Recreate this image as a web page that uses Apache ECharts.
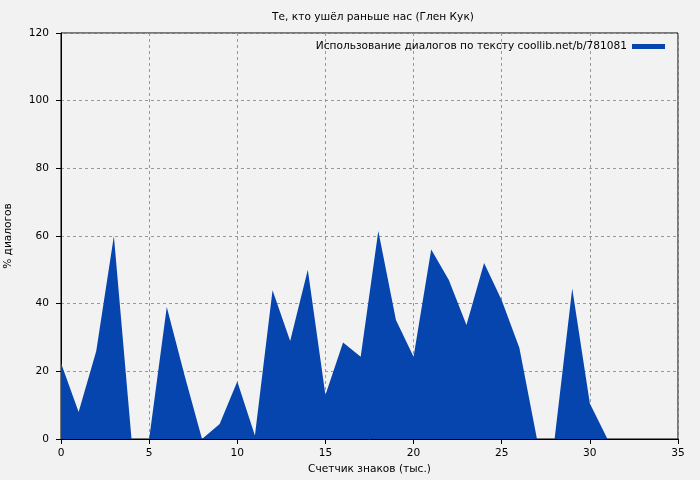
<!DOCTYPE html>
<html>
<head>
<meta charset="utf-8">
<script src="https://cdn.jsdelivr.net/npm/echarts@6/dist/echarts.min.js"></script>
<style>html,body{margin:0;padding:0;background:#f2f2f2;}#c{width:700px;height:480px;}</style>
</head>
<body>
<div id="c"></div>
<script>
var titleText = 'Те, кто ушёл раньше нас (Глен Кук)';
var seriesName = 'Использование диалогов по тексту coollib.net/b/781081';
var xName = 'Счетчик знаков (тыс.)';
var yName = '% диалогов';
var xValues = [0,1,2,3,4,5,6,7,8,9,10,11,12,13,14,15,16,17,18,19,20,21,22,23,24,25,26,27,28,29,30,31];
var yValues = [22.5,8,26,60,0,0,39,19,0,4.4,17,1,44,29,50,13,28.5,24.3,61.5,35.2,24.3,56,47,33.7,52,41,27,0,0,44.5,10.5,0];

var data = xValues.map(function(x,i){return [x, yValues[i]];});
var font = 'DejaVu Sans';
var fs = 10.6;
var chart = echarts.init(document.getElementById('c'), null, {renderer:'canvas'});
chart.setOption({
  backgroundColor:'#f2f2f2',
  animation:false,
  title:{text:titleText,left:368,textAlign:'center',top:7,textStyle:{fontFamily:font,fontSize:fs,fontWeight:'normal',color:'#000'}},
  legend:{right:30,top:36,align:'right',itemWidth:33,itemHeight:5,icon:'rect',itemGap:0,
    textStyle:{fontFamily:font,fontSize:fs,color:'#000'},data:[{name:seriesName,icon:'rect'}]},
  grid:{left:61,right:22,top:33,bottom:41,show:true,borderColor:'#000',borderWidth:1,backgroundColor:'transparent',outerBoundsMode:'none',containLabel:false},
  xAxis:{type:'value',min:0,max:35,interval:5,name:xName,nameLocation:'middle',nameGap:25,
    nameTextStyle:{fontFamily:font,fontSize:fs,color:'#000'},
    axisLine:{lineStyle:{color:'#000'}},axisTick:{length:5,lineStyle:{color:'#000'}},
    axisLabel:{fontFamily:font,fontSize:fs,color:'#000',margin:9},
    splitLine:{show:true,lineStyle:{color:'#999',type:[3,3],width:1}}},
  yAxis:{type:'value',min:0,max:120,interval:20,name:yName,nameLocation:'middle',nameGap:47,nameRotate:90,
    nameTextStyle:{fontFamily:font,fontSize:fs,color:'#000'},
    axisLine:{show:true,lineStyle:{color:'#000'}},axisTick:{show:true,length:5,lineStyle:{color:'#000'}},
    axisLabel:{fontFamily:font,fontSize:fs,color:'#000',margin:12},
    splitLine:{show:true,lineStyle:{color:'#999',type:[3,3],width:1}}},
  series:[{name:seriesName,type:'line',data:data,symbol:'none',showSymbol:false,
    lineStyle:{width:0,color:'#0645ad'},itemStyle:{color:'#0645ad'},
    areaStyle:{color:'#0645ad',opacity:1},z:1}]
});
</script>
</body>
</html>
